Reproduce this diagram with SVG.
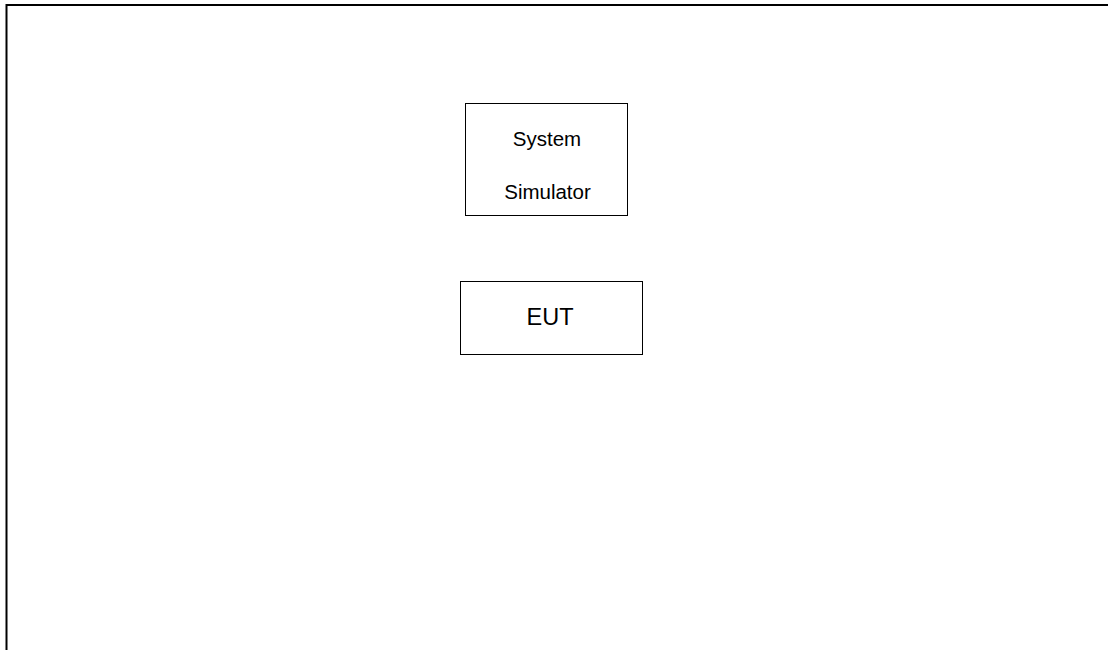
<svg xmlns="http://www.w3.org/2000/svg" width="1108" height="650" viewBox="0 0 1108 650">
<style>
.box{fill:#fff;stroke:#000;stroke-width:1}
.t{font-family:"Liberation Sans",Arial,sans-serif;fill:#000;text-anchor:middle}
</style>
<rect width="1108" height="650" fill="#fff"/>
<g id="frame">
<path d="M6.5,650 V5 H1108" fill="none" stroke="#000" stroke-width="2"/>
</g>
<g id="connectors"></g>
<g id="system-simulator">
<rect class="box" x="465.5" y="103.5" width="162" height="112"/>
<text class="t" x="547" y="146" font-size="20.5">System</text>
<text class="t" x="547.5" y="199" font-size="20.5">Simulator</text>
</g>
<g id="eut">
<rect class="box" x="460.5" y="281.5" width="182" height="73"/>
<text class="t" x="550" y="324.5" font-size="23.5">EUT</text>
</g>
</svg>
